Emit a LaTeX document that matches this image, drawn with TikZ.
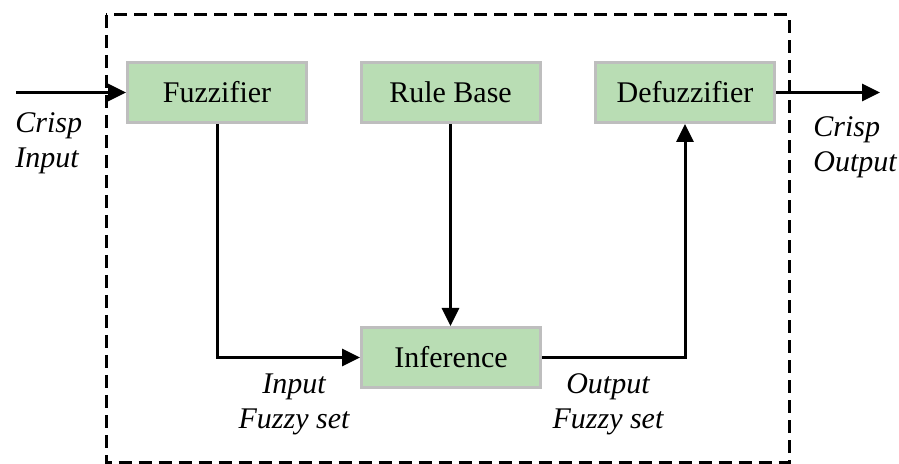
\documentclass[tikz,border=0pt]{standalone}
\usepackage{fontspec}
\setmainfont{Liberation Serif}
\usetikzlibrary{arrows.meta}

\definecolor{boxgreen}{RGB}{185,221,180}
\definecolor{boxgray}{RGB}{190,190,190}

\tikzset{
	block/.style = {draw=boxgray, line width=1.5pt, fill=boxgreen,
		minimum width=89.5pt, minimum height=30pt, inner sep=0pt},
	arr/.style = {line width=1.5pt, -{Triangle[length=9pt,width=8.5pt]}},
	lbl/.style = {font=\fontsize{15}{17.5}\selectfont\itshape, inner sep=0pt}
}

\begin{document}
\begin{tikzpicture} [x = 0.5pt, y = -0.5pt, font = \fontsize{15}{17.5}\selectfont]
	\useasboundingbox (0,0) rectangle (899,464);
	% system boundary
	\draw [line width=1.5pt, dash pattern=on 6.5pt off 3.5pt] (106,15) rectangle (789,462.5);

	\node [block] (fuzz) at (217,92.5) {Fuzzifier};
	\node [block] (rule) at (450.5,92.5) {Rule Base};
	\node [block] (defuzz) at (685,92.5) {Defuzzifier};
	\node [block] (infer) at (451,357.5) {Inference};

	\coordinate (in) at (16,92.5);
	\coordinate (out) at (880,92.5);

	\draw [arr] (in) -- (fuzz);
	\draw [arr] (defuzz) -- (out);
	\draw [arr] (fuzz) |- (infer);
	\draw [arr] (rule) -- (rule |- infer.north);
	\draw [arr] (infer) -| (defuzz);

	% signal labels
	\node [lbl, anchor=west, align=left] (cin) at (15,143) {Crisp\\Input};
	\node [lbl, anchor=west, align=left] (cout) at (813,147) {Crisp\\Output};
	\node [lbl, align=center] (fin) at (294,404) {Input\\Fuzzy set};
	\node [lbl, align=center] (fout) at (608,404) {Output\\Fuzzy set};
\end{tikzpicture}
\end{document}
